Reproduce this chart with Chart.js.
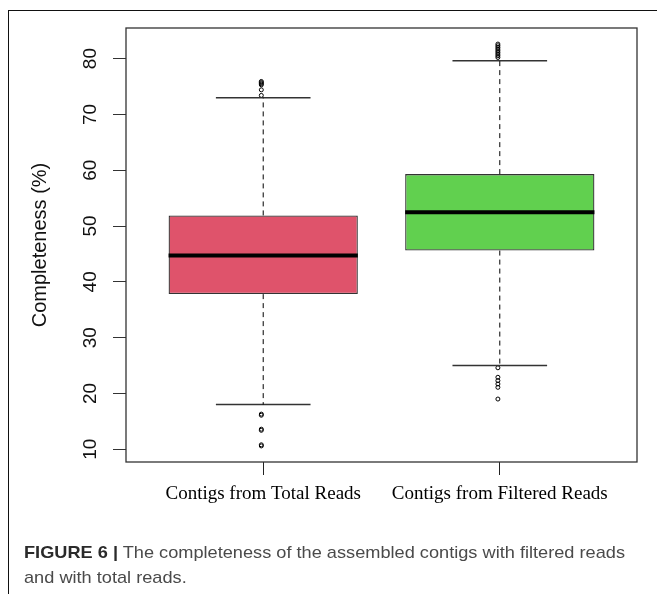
<!DOCTYPE html>
<html><head><meta charset="utf-8">
<script src="https://cdn.jsdelivr.net/npm/chart.js@4"></script>
<style>
html,body{margin:0;padding:0;background:#fff;}
#wrap{position:relative;width:657px;height:594px;overflow:hidden;background:#fff;}
#frame{position:absolute;left:8px;top:10px;width:700px;height:700px;border-left:1px solid #111;border-top:1px solid #111;}
canvas{position:absolute;left:0;top:0;}
#cap{position:absolute;left:24px;top:541px;font-family:'Liberation Sans',Arial,sans-serif;font-size:17px;line-height:24.5px;color:#4a4a4a;white-space:nowrap;transform-origin:0 0;}
#cap b{color:#2a2a2a;}
</style></head>
<body><div id="wrap"><div id="frame"></div><canvas id="c" width="657" height="594"></canvas>
<div id="cap"><span id="l1"><b>FIGURE 6 |</b> The completeness of the assembled contigs with filtered reads</span><br>and with total reads.</div></div>
<script>
// ---- data ----
const categories = ['Contigs from Total Reads', 'Contigs from Filtered Reads'];
const boxColors = ['#DF536B', '#61D04F'];
const q1 = [37.8, 45.6];
const median = [44.7, 52.45];
const q3 = [51.9, 59.3];
const whiskerLow = [18.0, 25.0];
const whiskerHigh = [73.0, 79.6];
const outliersTotal = [75.9, 75.7, 75.5, 75.3, 74.4, 73.4, 16.3, 16.1, 13.6, 13.4, 10.8, 10.6];
const outliersFiltered = [82.6, 82.3, 82.0, 81.7, 81.4, 81.1, 80.8, 80.5, 80.2, 24.6, 22.9, 22.3, 21.7, 21.1, 19.0];
const yTicks = [10, 20, 30, 40, 50, 60, 70, 80];
const yTitle = 'Completeness (%)';

// ---- derived ----
const outliers = [outliersTotal, outliersFiltered];
const xPos = categories.map((_, i) => i + 1);
const boxWidth = 0.8, capWidth = 0.4;
const allVals = [].concat(q1, q3, whiskerLow, whiskerHigh, outliersTotal, outliersFiltered);
const lo = Math.min(...allVals), hi = Math.max(...allVals);
const yMin = lo - 0.04 * (hi - lo), yMax = hi + 0.04 * (hi - lo);
const xMin = 0.5 - 0.04 * categories.length, xMax = categories.length + 0.5 + 0.04 * categories.length;

function seg(x1, y1, x2, y2, extra) {
  return Object.assign({
    type: 'scatter', showLine: true, data: [{x: x1, y: y1}, {x: x2, y: y2}],
    pointRadius: 0, borderColor: '#000', borderWidth: 1, fill: false, order: 0
  }, extra);
}

const datasets = [];
xPos.forEach((x, i) => {
  datasets.push(seg(x - boxWidth / 2, median[i], x + boxWidth / 2, median[i], {borderWidth: 4, borderCapStyle: 'butt'}));
  datasets.push(seg(x, q3[i], x, whiskerHigh[i], {borderDash: [5, 4]}));
  datasets.push(seg(x, q1[i], x, whiskerLow[i], {borderDash: [5, 4]}));
  datasets.push(seg(x - capWidth / 2, whiskerHigh[i], x + capWidth / 2, whiskerHigh[i], {borderColor: '#333', borderWidth: 1.5}));
  datasets.push(seg(x - capWidth / 2, whiskerLow[i], x + capWidth / 2, whiskerLow[i], {borderColor: '#333', borderWidth: 1.5}));
  datasets.push({
    type: 'scatter', data: outliers[i].map(v => ({x: x - 0.008, y: v})),
    pointRadius: 2, pointBorderWidth: 1, pointBorderColor: '#000', pointBackgroundColor: 'rgba(0,0,0,0)', order: 0
  });
});
datasets.push({
  type: 'bar', data: xPos.map((x, i) => ({x: x, y: [q1[i], q3[i]]})),
  backgroundColor: boxColors, borderColor: '#333', borderWidth: 1.3, borderSkipped: false,
  barPercentage: boxWidth, categoryPercentage: 1, order: 10
});

const plotBox = {
  id: 'plotBox',
  afterDatasetsDraw(chart) {
    const a = chart.chartArea, ctx = chart.ctx;
    ctx.save(); ctx.strokeStyle = '#333'; ctx.lineWidth = 1.3;
    ctx.strokeRect(a.left, a.top, a.right - a.left, a.bottom - a.top);
    ctx.restore();
  }
};

new Chart(document.getElementById('c'), {
  type: 'bar',
  data: {datasets},
  options: {
    responsive: false, animation: false,
    layout: {padding: {left: 0, right: 20, top: 28, bottom: 0}},
    plugins: {legend: {display: false}, tooltip: {enabled: false}},
    scales: {
      x: {
        type: 'linear', min: xMin, max: xMax, offset: false,
        afterBuildTicks: s => { s.ticks = xPos.map(v => ({value: v})); },
        afterFit: s => { s.height = 132; },
        ticks: {callback: v => categories[Math.round(v) - 1], autoSkip: false, maxRotation: 0,
          font: {family: "'Liberation Serif', 'Times New Roman', serif", size: 19}, color: '#000', padding: 8},
        grid: {offset: false, drawOnChartArea: false, tickLength: 13, color: '#222', lineWidth: 1},
        border: {display: false}
      },
      y: {
        type: 'linear', min: yMin, max: yMax,
        afterBuildTicks: s => { s.ticks = yTicks.map(v => ({value: v})); },
        afterFit: s => { s.width = 126; },
        ticks: {minRotation: 90, maxRotation: 90, crossAlign: 'center', padding: 12,
          font: {family: "'Liberation Sans', Arial, sans-serif", size: 19}, color: '#111'},
        grid: {drawOnChartArea: false, tickLength: 13, color: '#333', lineWidth: 1},
        border: {display: false},
        title: {display: true, text: yTitle, color: '#111',
          font: {family: "'Liberation Sans', Arial, sans-serif", size: 20}, padding: {top: 28, bottom: 0}}
      }
    }
  },
  plugins: [plotBox]
});

const l1 = document.getElementById('l1');
const w = l1.getBoundingClientRect().width;
document.getElementById('cap').style.transform = 'scaleX(' + (601 / w) + ')';
</script>
</body></html>
